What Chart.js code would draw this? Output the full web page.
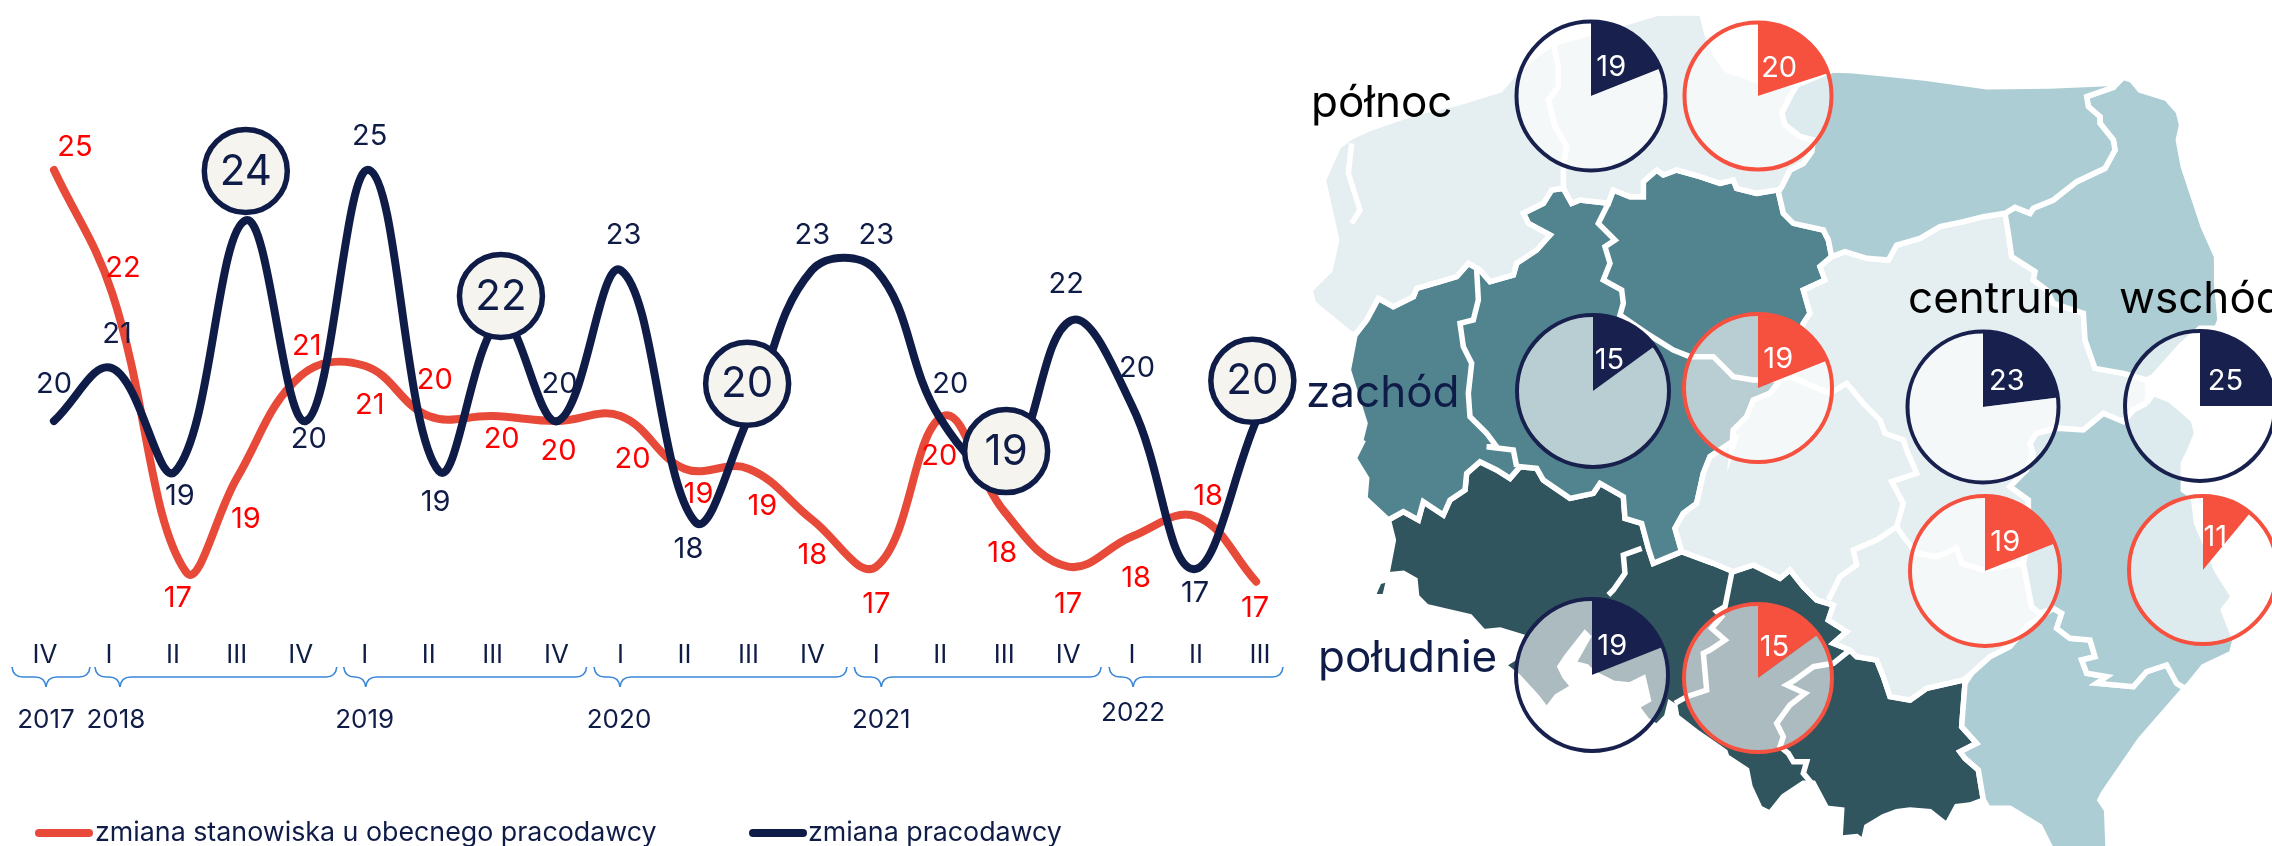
<!DOCTYPE html>
<html><head><meta charset="utf-8">
<script src="https://cdn.jsdelivr.net/npm/chart.js@4"></script>
<style>
html,body{margin:0;padding:0;width:2272px;height:846px;overflow:hidden;background:#fff}
canvas{position:absolute;display:block}
</style></head><body>
<canvas id="map" width="2272" height="846" style="left:0;top:0"></canvas>
<canvas id="line" width="1300" height="846" style="left:0;top:0"></canvas>
<script>
// ---------- DATA ----------
const quarters=["IV","I","II","III","IV","I","II","III","IV","I","II","III","IV","I","II","III","IV","I","II","III"];
// position of each point along the quarter axis
const promotionPos=[0.14,1.05,2.2,3,4,5,6,7,8,9,10,11,12,13,14.05,15,16,17,18,18.94];
const jobChangePos=[0.14,1.05,2.04,3.14,4.08,5.07,6.16,7.13,8.02,9.01,10.16,10.98,11.99,13,14,15,16.04,17,17.95,18.94];
const promotion=[25,22.55,17,18.86,20.9,21.1,20.1,20.1,20,20.1,19.05,19.05,18.03,17.1,20.1,18.2,17.1,17.7,18.1,16.8];
const jobChange=[20,21.05,19,24,20,25,19,22,20,23,18,20,23,23,20.05,19,22,20.3,17.05,20];
const promotionLabels=[25,22,17,19,21,21,20,20,20,20,19,19,18,17,20,18,17,18,18,17];
const jobChangeLabels=[20,21,19,24,20,25,19,22,20,23,18,20,23,23,20,19,22,20,17,20];
const bubbleIndex=[3,7,11,15,19];
const bubblePos=[3.14,7.13,10.98,15.03,18.88];
const bubbleHeight=[24.98,22.49,20.74,19.4,20.8];
const years=["2017","2018","2019","2020","2021","2022"];
const yearFirst=[0,1,5,9,13,17];
const yearLast=[0,4,8,12,16,19];
const seriesNames=["zmiana stanowiska u obecnego pracodawcy","zmiana pracodawcy"];
const regionNames=["północ","zachód","południe","centrum","wschód"];
const pieJobChange=[19,15,19,23,25];
const piePromotion=[20,19,15,19,11];

// ---------- STYLE ----------
const NAVY="#0f1c47",RED="#e84a39",LABELRED="#ff0000",FONT="Inter, 'Noto Sans', sans-serif";
const PIENAVY="#18214e",PIERED="#f6503f";
const C_LIGHT="#e5eef1",C_AD="#adcdd4",C_TEAL="#52848f",C_DARK="#31555f";

// label offsets (pixels): x from the quarter tick, y from the point
const jobOff=[[9,-37],[8,-34],[7,25],null,[8,18],[5,-34],[7,31],null,[3,-37],[3,-35],[4,28],null,[0,-35],[0,-35],[10,-34],null,[-2,-36],[5,-38],[-1,24],null];
const promoOff=[[30,-23],[14,-25],[5,27],[9,41],[6,-30],[5,40],[6,-36],[9,23],[2,30],[12,43],[14,26],[14,38],[0,35],[0,38],[-1,40],[-2,42],[0,38],[4,42],[12,-20],[-5,27]];
const braceL=[33,14,21,26.5,22,23],braceR=[45,36,30,34.6,33,23],braceTip=[34,25,22,26,27,24];
const yearDx=[1,7,0,-1.5,5,1],yearBase=[728,728,728,728,728,721];

// ---------- MAP (background geometry, pixels) ----------
const Z4=[1280,0],Z5=[1770,0],Z6=[1280,440],Z7=[1770,440];
const P=(Z,a)=>{const o=[];for(let i=0;i<a.length;i+=2)o.push({x:Z[0]+a[i]/3,y:Z[1]+a[i+1]/3});return o};
const closed=(...s)=>{const o=s.flat();o.push(o[0]);return o};

const bNorthWestTop=[225,1005,260,960,295,895,340,920,400,890,410,865,480,845,530,830,565,790,600,810,630,845,700,825,710,790,770,750,810,705,745,670,730,640,790,610,815,570,850,565];
const bNorthEastTop=[875,610,900,600,985,610,1000,570,1050,590,1090,590,1090,545,1130,510,1150,525,1190,510,1260,530,1320,550,1360,540,1370,565,1430,580,1490,570];
const bPomEast=[81,255,60,290,35,340,45,375,90,410,130,420,125,455,100,490,60,510,35,560,25,575];
const bWarmSouthEast=[40,640,70,670,160,690,175,720,185,770];
const bKujEast=[150,800,165,840,100,870,120,940,100,970,60,1100];
const bLodzWestZ4=[1470,1180,1420,1200,1400,1250,1360,1290,1355,1350];
const bLodzWestZ6=[1365,0,1290,50,1270,100,1250,190,1210,220,1185,265,1205,335];
const bTealDark=[1105,325,1085,250,1035,235,1030,170,960,130,940,160,870,175,790,120,770,85,720,80,690,115,650,90,600,65,560,100,555,150,510,180,490,225,430,185,415,240,370,215,325,240];
const bDarkTopRightZ6=[1300,370,1360,395,1420,375,1500,415];
const bDarkTopRightZ7=[30,415,60,390,100,440,140,480,190,495,175,540,230,575,190,610,240,630,260,650,320,660,340,710,360,770,420,780,470,745,580,720,605,700,660,650,720,620,770,560];
const bLubPod=[850,505,875,520,860,565,900,595,960,600,975,650,935,660,950,700,1010,710,980,730,1090,740,1130,695,1190,675,1220,730,1245,745];

const rev=a=>{const o=[];for(let i=a.length-2;i>=0;i-=2)o.push(a[i],a[i+1]);return o};

const polyNorthW=closed(P(Z4,[130,540,175,440,215,410,270,385,400,340,530,310,660,270,700,225,760,170,820,130,835,200,835,260,805,300,825,380,860,440,850,500,850,565]),
  P(Z4,rev(bNorthWestTop)),P(Z4,[210,1000,100,910,90,870,150,810,170,720]));
const polyNorthE=closed(P(Z4,[820,130,1000,80,1130,40,1265,38,1280,100,1310,170,1340,210,1430,240]),P(Z5,bPomEast),P(Z4,rev(bNorthEastTop)),P(Z4,[850,565,850,500,860,440,825,380,805,300,835,260,835,200]));
const polyWarm=closed(P(Z5,[190,210,250,212,350,222,470,235,650,260,840,258,1030,250,1030,262,950,290,955,320,990,350,990,370,1030,420,1035,450,1005,505,920,545,850,600,790,625,780,640,735,622,705,640,640,650,580,665,510,680,450,715,380,735,355,780,290,775,225,755,185,770]),P(Z5,rev(bWarmSouthEast)),P(Z5,[25,575]),P(Z5,rev(bPomEast)));
const polyPodl=closed(P(Z5,[705,640,735,622,780,640,790,625,850,600,920,545,1005,505,1035,450,1030,420,990,370,990,350,955,320,950,290,1030,262,1060,232,1085,240,1110,270,1190,295,1225,335,1235,375,1225,420,1240,500,1300,680,1340,770,1340,850,1350,960,1340,985,1290,985,1230,1040,1150,1130,1130,1140,1060,1120,975,1105,945,1020,940,940,850,910,830,870,790,840,795,815,725,770,715,700]));
const polyLub=closed(P(Z5,[1130,1210,1150,1180,1200,1200,1270,1260,1280,1300]),P(Z7,[1260,30,1240,70,1240,150,1270,170,1280,250,1340,390,1390,470,1360,510,1395,600,1385,640,1300,680,1260,730]),P(Z7,rev(bLubPod)),P(Z7,[810,520,785,500,760,370,775,300,775,180,720,140,770,90,790,40]),P(Z5,[780,1330,800,1300,860,1285,940,1290,1000,1240,1060,1265,1090,1230]));
const polyPodk=closed(P(Z7,[585,730,575,860,620,910,570,935,585,955,625,990,640,1080,655,1105,720,1105,810,1160,850,1240,1015,1240,1010,1110,990,1080,1000,1060,1110,900]),P(Z7,rev(bLubPod)),P(Z7,[770,560,720,620,660,650,605,700]));
const polyLight=closed(P(Z5,[185,770,225,755,290,775,355,780,380,735,450,715,510,680,580,665,640,650,705,640,715,700,725,770,795,815,790,840,830,870,850,910,940,940,945,1020,975,1105,1060,1120,1130,1140,1135,1170,1130,1210,1090,1230,1060,1265,1000,1240,940,1290,860,1285,800,1300,780,1330]),
  P(Z7,[790,40,770,90,720,140,775,180,775,300,760,370,785,500,810,520,850,505]),P(Z7,rev(bDarkTopRightZ7)),P(Z6,rev(bDarkTopRightZ6)),P(Z6,rev(bLodzWestZ6)),P(Z4,rev(bLodzWestZ4)),P(Z5,rev(bKujEast)));
const polyTeal=closed(P(Z4,bNorthWestTop),P(Z4,[875,610]),P(Z4,bNorthEastTop),P(Z5,[25,575]),P(Z5,bWarmSouthEast),P(Z5,bKujEast),P(Z4,bLodzWestZ4),P(Z6,bLodzWestZ6),P(Z6,[1120,370]),P(Z6,bTealDark),P(Z6,[255,175,260,115,220,50,250,0]),P(Z4,[235,1350,255,1270,205,1110]));
const polyDark=closed(P(Z6,rev(bTealDark)),P(Z6,[1120,370,1205,335]),P(Z6,bDarkTopRightZ6),P(Z7,bDarkTopRightZ7.slice(0,bDarkTopRightZ7.length-8)),
  P(Z7,[585,730,575,860,620,910,570,935,585,955,625,990,640,1080,600,1095,560,1100,530,1155,480,1115,420,1110,380,1115,340,1130,290,1160,280,1205,260,1190,210,1195,215,1110,170,1105,130,1030,100,1030,40,1070,0,1120]),
  P(Z6,[1440,1105,1410,1040,1400,990,1340,950,1335,935,1255,880,1190,830,1185,800,1170,790,1160,830,1130,860,1100,840,1070,800,1105,780,1090,715,1050,735,1000,730,940,700,920,680,880,670,925,590,915,580,860,650,840,680,855,710,880,740,830,770,800,810,770,770,715,710,670,675,710,650,725,590,660,570,610,575,570,530,440,500,410,470,405,420,370,400,320,405,340,300]));
const polySliver=closed(P(Z6,[290,462,303,432,316,428,308,462]));
const linesInner=[
  P(Z4,[215,430,205,520,240,630,215,670]),
  P(Z4,[590,810,595,900,580,960,540,970,550,1040,575,1090,565,1180,570,1250,620,1300,650,1340]).concat(P(Z6,[620,20,700,30,710,80])),
  P(Z4,[985,610,955,670,1005,720,975,740,990,790,970,840,1025,870,1030,910,1020,945,1100,1000,1180,1050,1230,1070,1300,1070,1360,1130,1420,1140,1470,1140]),
  P(Z5,[0,1140,60,1130,180,1180,230,1150,280,1210,330,1260,345,1300,400,1320]).concat(P(Z7,[410,30,440,100,365,125,400,190,380,260])),
  P(Z7,[175,480,210,410,260,375,250,330,320,300,380,260,400,290,440,340,500,350,560,325,575,370,640,390,760,370]),
  P(Z6,[1085,325,1030,345,1035,400,1000,450,985,465]),
  P(Z6,[1355,400,1335,500,1310,515,1325,530,1295,565,1335,600,1290,630,1270,640,1280,750,1220,770,1185,790]),
  P(Z7,[240,630,190,670,130,680,75,720,50,735,105,760,60,795,20,850,40,890,30,920,55,940,70,965,110,965,100,1000,125,1030])
];
const fills=[[polyNorthW,C_LIGHT],[polyNorthE,C_LIGHT],[polyWarm,C_AD],[polyPodl,C_AD],[polyLub,C_AD],[polyPodk,C_AD],[polyLight,C_LIGHT],[polyTeal,C_TEAL],[polyDark,C_DARK]];
// first dataset ends on top in Chart.js
const mapSets=[];
linesInner.forEach(l=>mapSets.push({data:l,showLine:true,fill:false,borderColor:"#fff",borderWidth:5.5,pointRadius:0,tension:0}));
fills.forEach(([d,c])=>mapSets.push({data:d,showLine:true,fill:"shape",backgroundColor:c,borderColor:"#fff",borderWidth:5.5,pointRadius:0,tension:0}));
mapSets.push({data:polySliver,showLine:true,fill:"shape",backgroundColor:C_DARK,borderWidth:0,pointRadius:0,tension:0});

const regionText=[
 {t:regionNames[0],x:1311,y:117,c:"#000"},
 {t:regionNames[1],x:1306,y:407,c:NAVY},
 {t:regionNames[2],x:1318,y:672,c:NAVY},
 {t:regionNames[3],x:1908,y:313,c:"#000"},
 {t:regionNames[4],x:2119,y:313,c:"#000"}];
new Chart(document.getElementById("map"),{type:"scatter",data:{datasets:mapSets},
 options:{responsive:false,animation:false,devicePixelRatio:1,events:[],layout:{padding:0,autoPadding:false},
  plugins:{legend:{display:false},tooltip:{enabled:false},filler:{propagate:false}},
  scales:{x:{type:"linear",min:0,max:2272,display:false},y:{type:"linear",min:0,max:846,reverse:true,display:false}}},
 plugins:[{id:"regionText",afterDatasetsDraw(ch){const c=ch.ctx;c.save();c.font="44px "+FONT;c.textBaseline="alphabetic";c.textAlign="left";
   regionText.forEach(r=>{c.fillStyle=r.c;c.fillText(r.t,r.x,r.y)});c.restore();}}]});

// ---------- PIES ----------
const pieGeo=[ // region order: north, west, south, centre, east
 {a:[1590.5,95.5,76.5],b:[1758,96,75.5]},
 {a:[1592.5,391,78],b:[1758,388,76]},
 {a:[1592,674.5,78],b:[1758,678,76]},
 {a:[1982.5,406.5,77.5],b:[1985,571,77]},
 {a:[2200,406,77],b:[2203,570,76]}];
function makePie(geo,val,col){
  const cv=document.createElement("canvas");const S=180;cv.width=S;cv.height=S;
  cv.style.left=(geo[0]-S/2)+"px";cv.style.top=(geo[1]-S/2)+"px";document.body.appendChild(cv);
  const R=geo[2]-2;
  new Chart(cv,{type:"pie",data:{labels:["v","r"],datasets:[{data:[val,100-val],backgroundColor:[col,"rgba(255,255,255,0.6)"],borderWidth:0,radius:R}]},
   options:{responsive:false,animation:false,devicePixelRatio:1,events:[],layout:{padding:0},plugins:{legend:{display:false},tooltip:{enabled:false}}},
   plugins:[{id:"ring",afterDatasetsDraw(ch){const m=ch.getDatasetMeta(0).data[0],c=ch.ctx;c.save();
     c.strokeStyle=col;c.lineWidth=4;c.beginPath();c.arc(m.x,m.y,R,0,Math.PI*2);c.stroke();
     const mid=(m.startAngle+m.endAngle)/2;const rr=36;
     c.fillStyle="#fff";c.font="29px "+FONT;c.textAlign="center";c.textBaseline="middle";
     c.fillText(String(val),m.x+Math.cos(mid)*rr,m.y+Math.sin(mid)*rr+1);c.restore();}}]});
}
pieGeo.forEach((g,i)=>{makePie(g.a,pieJobChange[i],PIENAVY);makePie(g.b,piePromotion[i],PIERED);});

// ---------- LINE CHART ----------
const promotionPts=promotion.map((v,i)=>({x:promotionPos[i],y:v}));
const jobChangePts=jobChange.map((v,i)=>({x:jobChangePos[i],y:v}));
const bubblePts=bubbleHeight.map((v,i)=>({x:bubblePos[i],y:v}));
const chartPlugin={id:"annot",afterDatasetsDraw(ch){
  const c=ch.ctx,xs=ch.scales.x,ys=ch.scales.y;c.save();
  c.textAlign="center";c.textBaseline="middle";c.font="29px "+FONT;
  c.fillStyle=LABELRED;
  promotionLabels.forEach((v,i)=>c.fillText(v,xs.getPixelForValue(i)+promoOff[i][0],ys.getPixelForValue(promotion[i])+promoOff[i][1]));
  c.fillStyle=NAVY;
  jobChangeLabels.forEach((v,i)=>{if(jobOff[i])c.fillText(v,xs.getPixelForValue(i)+jobOff[i][0],ys.getPixelForValue(jobChange[i])+jobOff[i][1])});
  c.font="42px "+FONT;
  bubbleIndex.forEach((q,i)=>c.fillText(jobChangeLabels[q],xs.getPixelForValue(bubblePos[i]),ys.getPixelForValue(bubbleHeight[i])+1));
  // year braces
  c.strokeStyle="#3a86d8";c.lineWidth=1.6;
  years.forEach((y,i)=>{const L=xs.getPixelForValue(yearFirst[i])-braceL[i],R=xs.getPixelForValue(yearLast[i])+braceR[i],T=L+braceTip[i];
    const a=667,b=677,d=687,q=11;
    c.beginPath();c.moveTo(L,a);c.quadraticCurveTo(L+1,b,L+q,b);c.lineTo(T-q,b);c.quadraticCurveTo(T-1,b,T,d);
    c.quadraticCurveTo(T+1,b,T+q,b);c.lineTo(R-q,b);c.quadraticCurveTo(R-1,b,R,a);c.stroke();});
  c.fillStyle=NAVY;c.font="26px "+FONT;c.textBaseline="alphabetic";
  years.forEach((y,i)=>c.fillText(y,xs.getPixelForValue(yearFirst[i])+yearDx[i],yearBase[i]));
  // legend
  c.textAlign="left";
  const lg=[[39,89,95,RED,0],[753,803,808,NAVY,1]];
  lg.forEach(([x0,x1,tx,col,n])=>{c.strokeStyle=col;c.lineWidth=8;c.lineCap="round";c.beginPath();c.moveTo(x0,833);c.lineTo(x1,833);c.stroke();
    c.fillStyle=NAVY;c.font="26.8px "+FONT;c.fillText(seriesNames[n],tx,841);});
  c.restore();}};
new Chart(document.getElementById("line"),{type:"line",
 data:{datasets:[
  {label:"b",data:bubblePts,showLine:false,pointRadius:41.5,pointBackgroundColor:"#f5f4ef",pointBorderColor:NAVY,pointBorderWidth:5.5,clip:false},
  {label:seriesNames[1],data:jobChangePts,borderColor:NAVY,borderWidth:8,pointRadius:0,tension:0.4,borderCapStyle:"round",borderJoinStyle:"round",clip:false},
  {label:seriesNames[0],data:promotionPts,borderColor:RED,borderWidth:8,pointRadius:0,tension:0.4,borderCapStyle:"round",borderJoinStyle:"round",clip:false}
 ]},
 options:{responsive:false,animation:false,devicePixelRatio:1,events:[],
  layout:{padding:{left:45,right:40,top:19.4,bottom:0},autoPadding:false},
  plugins:{legend:{display:false},tooltip:{enabled:false}},
  scales:{
   x:{type:"linear",min:0,max:19,offset:false,grid:{display:false},border:{display:false},
      afterFit(s){s.height=224.2},
      ticks:{stepSize:1,autoSkip:false,maxRotation:0,minRotation:0,padding:10,color:NAVY,font:{family:FONT,size:26},callback:v=>quarters[v]}},
   y:{type:"linear",min:16,max:28,display:false}
  }},
 plugins:[chartPlugin]});
</script>
</body></html>
